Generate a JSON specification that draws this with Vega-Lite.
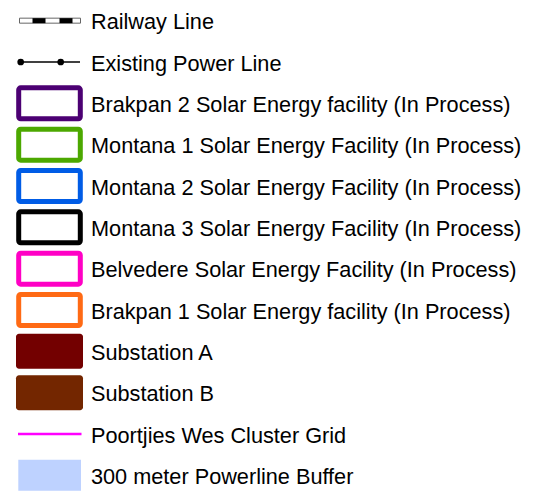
{
  "$schema": "https://vega.github.io/schema/vega-lite/v6.json",
  "width": 539,
  "height": 494,
  "padding": 0,
  "autosize": "none",
  "background": "white",
  "config": {"view": {"stroke": null}},
  "data": {"values": [
    {"item": "Railway Line", "kind": "railway"},
    {"item": "Existing Power Line", "kind": "powerline"},
    {"item": "Brakpan 2 Solar Energy facility (In Process)", "kind": "facility"},
    {"item": "Montana 1 Solar Energy Facility (In Process)", "kind": "facility"},
    {"item": "Montana 2 Solar Energy Facility (In Process)", "kind": "facility"},
    {"item": "Montana 3 Solar Energy Facility (In Process)", "kind": "facility"},
    {"item": "Belvedere Solar Energy Facility (In Process)", "kind": "facility"},
    {"item": "Brakpan 1 Solar Energy facility (In Process)", "kind": "facility"},
    {"item": "Substation A", "kind": "substation"},
    {"item": "Substation B", "kind": "substation"},
    {"item": "Poortjies Wes Cluster Grid", "kind": "grid"},
    {"item": "300 meter Powerline Buffer", "kind": "buffer"}
  ]},
  "encoding": {
    "y": {
      "field": "item", "type": "nominal", "sort": null, "axis": null,
      "scale": {
        "domain": ["Railway Line", "Existing Power Line", "Brakpan 2 Solar Energy facility (In Process)", "Montana 1 Solar Energy Facility (In Process)", "Montana 2 Solar Energy Facility (In Process)", "Montana 3 Solar Energy Facility (In Process)", "Belvedere Solar Energy Facility (In Process)", "Brakpan 1 Solar Energy facility (In Process)", "Substation A", "Substation B", "Poortjies Wes Cluster Grid", "300 meter Powerline Buffer"],
        "range": [0, 496], "paddingInner": 0, "paddingOuter": 0
      }
    }
  },
  "layer": [
    {
      "transform": [{"filter": "datum.kind === 'railway'"}],
      "mark": {"type": "bar", "size": 5, "fill": "white", "stroke": "#666666", "strokeWidth": 1},
      "encoding": {
        "x": {"datum": 19.5, "type": "quantitative", "scale": {"domain": [0, 539], "nice": false, "zero": false}, "axis": null},
        "x2": {"datum": 80.5}
      }
    },
    {
      "transform": [{"filter": "datum.kind === 'railway'"}],
      "mark": {"type": "bar", "size": 5, "fill": "black"},
      "encoding": {"x": {"datum": 32.5, "type": "quantitative"}, "x2": {"datum": 45.5}}
    },
    {
      "transform": [{"filter": "datum.kind === 'railway'"}],
      "mark": {"type": "bar", "size": 5, "fill": "black"},
      "encoding": {"x": {"datum": 59.5, "type": "quantitative"}, "x2": {"datum": 72.5}}
    },
    {
      "transform": [{"filter": "datum.kind === 'powerline'"}],
      "mark": {"type": "rule", "color": "black", "strokeWidth": 1.5},
      "encoding": {"x": {"datum": 18, "type": "quantitative"}, "x2": {"datum": 80}}
    },
    {
      "transform": [{"filter": "datum.kind === 'powerline'"}],
      "mark": {"type": "point", "filled": true, "color": "black", "size": 45, "opacity": 1},
      "encoding": {"x": {"datum": 20.7, "type": "quantitative"}}
    },
    {
      "transform": [{"filter": "datum.kind === 'powerline'"}],
      "mark": {"type": "point", "filled": true, "color": "black", "size": 45, "opacity": 1},
      "encoding": {"x": {"datum": 60.7, "type": "quantitative"}}
    },
    {
      "transform": [{"filter": "datum.kind === 'facility'"}],
      "mark": {"type": "bar", "size": 31, "fill": "white", "strokeWidth": 5, "cornerRadius": 2},
      "encoding": {
        "x": {"datum": 18.7, "type": "quantitative"}, "x2": {"datum": 80.3},
        "stroke": {
          "field": "item", "type": "nominal", "legend": null,
          "scale": {
            "domain": ["Brakpan 2 Solar Energy facility (In Process)", "Montana 1 Solar Energy Facility (In Process)", "Montana 2 Solar Energy Facility (In Process)", "Montana 3 Solar Energy Facility (In Process)", "Belvedere Solar Energy Facility (In Process)", "Brakpan 1 Solar Energy facility (In Process)"],
            "range": ["#4c0073", "#4ca800", "#005ce6", "#000000", "#ff00c5", "#ff6a14"]
          }
        }
      }
    },
    {
      "transform": [{"filter": "datum.kind === 'substation'"}],
      "mark": {"type": "bar", "size": 35, "cornerRadius": 3},
      "encoding": {
        "x": {"datum": 16, "type": "quantitative"}, "x2": {"datum": 83},
        "fill": {
          "field": "item", "type": "nominal", "legend": null,
          "scale": {"domain": ["Substation A", "Substation B"], "range": ["#730000", "#732600"]}
        }
      }
    },
    {
      "transform": [{"filter": "datum.kind === 'grid'"}],
      "mark": {"type": "rule", "color": "#ff00ff", "strokeWidth": 2.5},
      "encoding": {"x": {"datum": 18, "type": "quantitative"}, "x2": {"datum": 81.5}}
    },
    {
      "transform": [{"filter": "datum.kind === 'buffer'"}],
      "mark": {"type": "bar", "size": 31, "fill": "#bed2ff"},
      "encoding": {"x": {"datum": 18.3, "type": "quantitative"}, "x2": {"datum": 81}}
    },
    {
      "mark": {"type": "text", "align": "left", "baseline": "middle", "dy": 1.5, "font": "Liberation Sans", "fontSize": 21.7, "color": "#000000"},
      "encoding": {
        "x": {"datum": 91, "type": "quantitative"},
        "text": {"field": "item", "type": "nominal"}
      }
    }
  ]
}
